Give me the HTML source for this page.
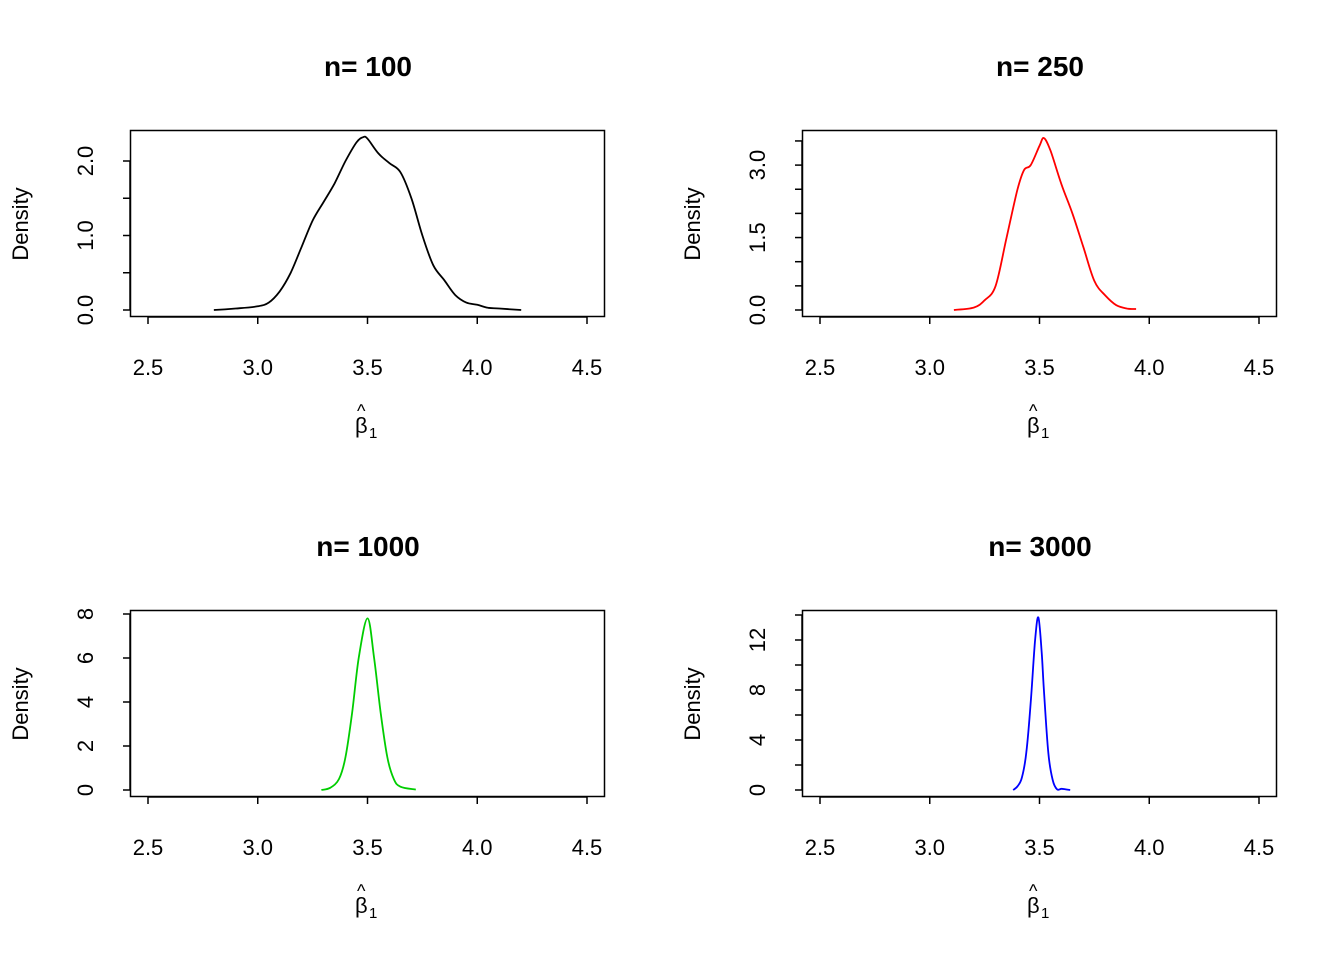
<!DOCTYPE html>
<html><head><meta charset="utf-8"><style>
body{margin:0;background:#fff}
svg{display:block;font-family:"Liberation Sans",Arial,sans-serif}
</style></head><body>
<svg id="c" width="1344" height="960"></svg>
<script>
const titles=["n= 100","n= 250","n= 1000","n= 3000"];
const colors=["#000000","#ff0000","#00cd00","#0000ff"];
const xTicks=[2.5,3.0,3.5,4.0,4.5];
const xTickLabels=["2.5","3.0","3.5","4.0","4.5"];
const yTicks1=[0,0.5,1,1.5,2];
const yLabels1=["0.0","1.0","2.0"];
const yTicks2=[0,0.5,1,1.5,2,2.5,3,3.5];
const yLabels2=["0.0","1.5","3.0"];
const yTicks3=[0,2,4,6,8];
const yLabels3=["0","2","4","6","8"];
const yTicks4=[0,2,4,6,8,10,12,14];
const yLabels4=["0","4","8","12"];
const x1=[2.8,2.9,3.0,3.05,3.1,3.15,3.2,3.25,3.3,3.35,3.4,3.45,3.48,3.5,3.55,3.6,3.65,3.7,3.75,3.8,3.85,3.9,3.95,4.0,4.05,4.1,4.2];
const d1=[0.0,0.02,0.05,0.1,0.25,0.5,0.85,1.2,1.45,1.7,2.0,2.25,2.32,2.3,2.1,1.97,1.85,1.5,1.0,0.6,0.4,0.2,0.1,0.07,0.03,0.02,0.0];
const x2=[3.11,3.2,3.25,3.3,3.35,3.4,3.43,3.46,3.5,3.52,3.55,3.6,3.65,3.7,3.75,3.8,3.85,3.9,3.94];
const d2=[0,0.05,0.2,0.5,1.5,2.5,2.9,3.0,3.4,3.56,3.3,2.6,2.0,1.3,0.6,0.3,0.1,0.03,0.02];
const x3=[3.29,3.33,3.37,3.4,3.43,3.46,3.5,3.53,3.56,3.59,3.62,3.65,3.72];
const d3=[0,0.1,0.5,1.5,3.5,6,7.8,6,3.5,1.5,0.5,0.15,0.02];
const x4=[3.38,3.4,3.42,3.44,3.46,3.48,3.495,3.51,3.52,3.54,3.56,3.58,3.6,3.62,3.64];
const d4=[0,0.3,1,3,7,12,13.8,11,8,3,0.8,0.05,0.1,0.05,0];

const svg=document.getElementById('c');const NS="http://www.w3.org/2000/svg";
function mk(t,a,txt){const e=document.createElementNS(NS,t);for(const k in a)e.setAttribute(k,a[k]);if(txt!=null)e.textContent=txt;svg.appendChild(e);return e;}
function smooth(P){let s=`M${P[0][0]},${P[0][1]}`;for(let i=0;i<P.length-1;i++){const p0=P[i-1]||P[i],p1=P[i],p2=P[i+1],p3=P[i+2]||P[i+1];
 const c1=[p1[0]+(p2[0]-p0[0])/6,p1[1]+(p2[1]-p0[1])/6],c2=[p2[0]-(p3[0]-p1[0])/6,p2[1]-(p3[1]-p1[1])/6];
 s+=` C${c1[0].toFixed(1)},${c1[1].toFixed(1)} ${c2[0].toFixed(1)},${c2[1].toFixed(1)} ${p2[0].toFixed(1)},${p2[1].toFixed(1)}`;}return s;}
const panels=[
 {ox:0,oy:0,yt:yTicks1,yl:yLabels1,ylv:[0,1,2],ys:74.5,xs:x1,ds:d1},
 {ox:672,oy:0,yt:yTicks2,yl:yLabels2,ylv:[0,1.5,3],ys:48.3,xs:x2,ds:d2},
 {ox:0,oy:480,yt:yTicks3,yl:yLabels3,ylv:[0,2,4,6,8],ys:22,xs:x3,ds:d3},
 {ox:672,oy:480,yt:yTicks4,yl:yLabels4,ylv:[0,4,8,12],ys:12.5,xs:x4,ds:d4}];
panels.forEach((p,i)=>{
 const X=v=>p.ox+148+(v-2.5)*219.5;
 const Y0=p.oy+310;const Y=v=>Y0-v*p.ys;
 let e=mk('text',{x:p.ox+368,y:p.oy+76,'text-anchor':'middle','font-size':28,'font-weight':'bold'},titles[i]);
 
 e=mk('rect',{x:p.ox+130.5,y:p.oy+130.5,width:474,height:186,fill:'none',stroke:'#000','stroke-width':1.5});
 
 mk('line',{x1:X(2.5),x2:X(4.5),y1:p.oy+317,y2:p.oy+317,stroke:'#000','stroke-width':1.5});
 xTicks.forEach((t,j)=>{mk('line',{x1:X(t),x2:X(t),y1:p.oy+317,y2:p.oy+324,stroke:'#000','stroke-width':1.5});
  e=mk('text',{x:X(t),y:p.oy+375,'text-anchor':'middle','font-size':22},xTickLabels[j]);
  });
 mk('line',{x1:p.ox+130,x2:p.ox+130,y1:Y(p.yt[0]),y2:Y(p.yt[p.yt.length-1]),stroke:'#000','stroke-width':1.5});
 p.yt.forEach(t=>mk('line',{x1:p.ox+123,x2:p.ox+130,y1:Y(t),y2:Y(t),stroke:'#000','stroke-width':1.5}));
 p.yl.forEach((l,j)=>{const y=Y(p.ylv[j]);
  e=mk('text',{x:0,y:0,transform:`translate(${p.ox+93},${y}) rotate(-90)`,'text-anchor':'middle','font-size':22},l);
  });
 e=mk('text',{x:0,y:0,transform:`translate(${p.ox+28},${p.oy+224}) rotate(-90)`,'text-anchor':'middle','font-size':22},'Density');
 
 e=mk('text',{x:p.ox+355,y:p.oy+433,'font-size':22},'β');
 
 mk('text',{x:p.ox+357,y:p.oy+417,'font-size':18},'^');
 mk('text',{x:p.ox+369,y:p.oy+438,'font-size':15},'1');
 const P=p.xs.map((v,j)=>[X(v),Y(p.ds[j])]);
 e=mk('path',{d:smooth(P),fill:'none',stroke:colors[i],'stroke-width':1.8,'stroke-linejoin':'round'});
 
});
</script>
</body></html>
